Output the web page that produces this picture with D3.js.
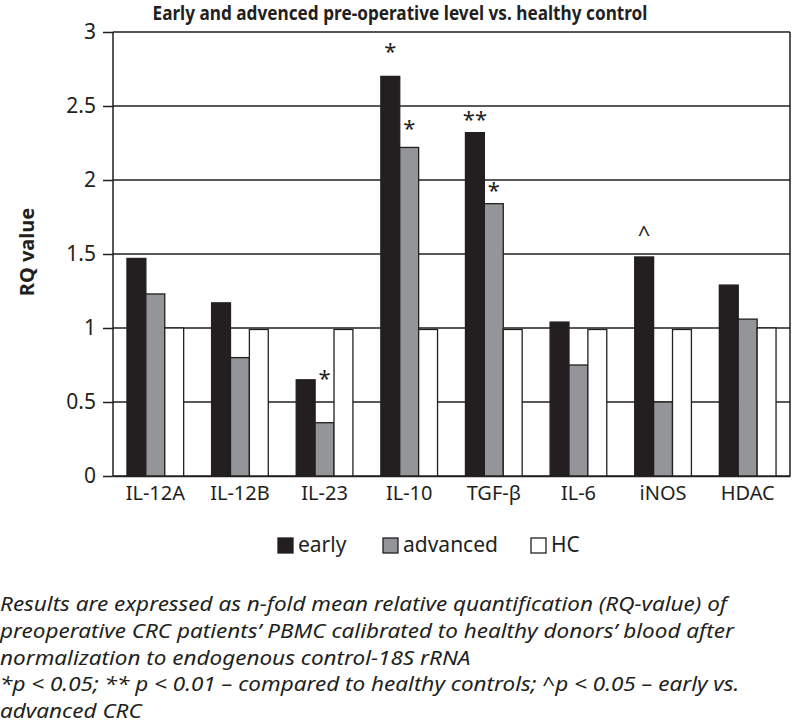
<html>
<head>
<script src="https://d3js.org/d3.v7.min.js"></script>
<style>
  body { margin: 0; background: #fff; }
  text { fill: #231f20; font-family: "Noto Sans", sans-serif; }
  .grid { stroke: #231f20; stroke-width: 1.5; }
  .bar { stroke: #231f20; stroke-width: 1.3; }
</style>
</head>
<body>
<svg width="792" height="725" id="chart"></svg>
<script>
// data
const genes = ["IL-12A", "IL-12B", "IL-23", "IL-10", "TGF-\u03b2", "IL-6", "iNOS", "HDAC"];
const series = ["early", "advanced", "HC"];
const early    = [1.47, 1.17, 0.65, 2.70, 2.32, 1.04, 1.48, 1.29];
const advanced = [1.23, 0.80, 0.36, 2.22, 1.84, 0.75, 0.50, 1.06];
const hc       = [1.00, 0.99, 0.99, 0.99, 0.99, 0.99, 0.99, 1.00];
const yTicks = [0, 0.5, 1, 1.5, 2, 2.5, 3];
// significance marks: gene, series, mark, level (RQ units)
const marks = [
  ["IL-23", "advanced", "*", 0.70],
  ["IL-10", "early", "*", 2.91],
  ["IL-10", "advanced", "*", 2.39],
  ["TGF-\u03b2", "early", "**", 2.45],
  ["TGF-\u03b2", "advanced", "*", 1.97],
  ["iNOS", "early", "^", 1.69]
];
const footnote = [
  "Results are expressed as n-fold mean relative quantification (RQ-value) of",
  "preoperative CRC patients\u2019 PBMC calibrated to healthy donors\u2019 blood after",
  "normalization to endogenous control-18S rRNA",
  "*p < 0.05; ** p < 0.01 \u2013 compared to healthy controls; ^p < 0.05 \u2013 early vs.",
  "advanced CRC"
];

const colors = d3.scaleOrdinal().domain(series).range(["#231f20", "#939598", "#ffffff"]);
const values = {early: early, advanced: advanced, HC: hc};

const svg = d3.select("#chart");
const plotLeft = 113, plotRight = 790, plotTop = 32, plotBottom = 476;

const x = d3.scaleBand().domain(genes).range([plotLeft, plotRight]).paddingInner(0.33).paddingOuter(0.165);
const xs = d3.scaleBand().domain(series).range([0, x.bandwidth()]);
const y = d3.scaleLinear().domain([0, 3]).range([plotBottom, plotTop]);

// title
svg.append("text")
  .attr("x", 400).attr("y", 20)
  .attr("text-anchor", "middle")
  .style("font-size", "19px").style("font-weight", "bold")
  .attr("textLength", 495).attr("lengthAdjust", "spacingAndGlyphs")
  .text("Early and advenced pre-operative level vs. healthy control");

// grid lines
svg.append("g").selectAll("line")
  .data(yTicks)
  .join("line")
  .attr("class", "grid")
  .attr("x1", plotLeft).attr("x2", plotRight)
  .attr("y1", d => y(d)).attr("y2", d => y(d));

// right frame
svg.append("line").attr("class", "grid")
  .attr("x1", plotRight).attr("x2", plotRight)
  .attr("y1", y(3)).attr("y2", y(0));

// bars
const groups = svg.append("g").selectAll("g")
  .data(genes)
  .join("g")
  .attr("transform", d => "translate(" + x(d) + ",0)");

groups.selectAll("rect")
  .data((g, i) => series.map(s => ({s: s, v: values[s][i]})))
  .join("rect")
  .attr("class", "bar")
  .attr("x", d => xs(d.s))
  .attr("width", xs.bandwidth())
  .attr("y", d => y(d.v))
  .attr("height", d => y(0) - y(d.v))
  .attr("fill", d => colors(d.s));

// y axis
const yAxis = svg.append("g")
  .attr("transform", "translate(" + plotLeft + ",0)")
  .call(d3.axisLeft(y).tickValues(yTicks).tickFormat(d3.format("")).tickSize(10).tickPadding(7));
yAxis.selectAll("line, path").attr("stroke", "#231f20").attr("stroke-width", 1.5);
yAxis.select(".domain").attr("d", "M0," + y(3) + "V" + y(0));
yAxis.selectAll("text").style("font-size", "21px").attr("fill", "#231f20").style("font-family", "'Noto Sans', sans-serif");

// x axis
const xAxis = svg.append("g")
  .attr("transform", "translate(0," + plotBottom + ")")
  .call(d3.axisBottom(x).tickSize(0).tickPadding(10));
xAxis.select(".domain").attr("stroke", "#231f20").attr("stroke-width", 1.5);
xAxis.selectAll("text").style("font-size", "20px").attr("fill", "#231f20").style("font-family", "'Noto Sans', sans-serif");

// y label
svg.append("text")
  .attr("transform", "translate(34,252) rotate(-90)")
  .attr("text-anchor", "middle")
  .style("font-size", "20px").style("font-weight", "bold")
  .text("RQ value");

// significance marks
svg.append("g").selectAll("text")
  .data(marks)
  .join("text")
  .attr("x", d => x(d[0]) + xs(d[1]) + xs.bandwidth() / 2)
  .attr("y", d => y(d[3]))
  .attr("dy", d => d[2] === "^" ? "0.75em" : "0.62em")
  .attr("text-anchor", "middle")
  .style("font-size", "22px")
  .text(d => d[2]);

// legend
const legendX = [278, 383, 531];
const legend = svg.append("g").selectAll("g")
  .data(series)
  .join("g")
  .attr("transform", (d, i) => "translate(" + legendX[i] + ",538)");
legend.append("rect")
  .attr("width", 15).attr("height", 15)
  .attr("fill", d => colors(d))
  .attr("stroke", "#231f20").attr("stroke-width", 1.3);
legend.append("text")
  .attr("x", 20).attr("y", 14)
  .style("font-size", "21px")
  .text(d => d);

// footnote, stretched so the first line spans like the original
const notes = svg.append("g").selectAll("text")
  .data(footnote)
  .join("text")
  .attr("x", 0)
  .attr("y", (d, i) => 611 + i * 26.8)
  .style("font-size", "20px").style("font-style", "italic")
  .text(d => d);
const stretch = 727 / notes.node().getComputedTextLength();
notes.each(function() {
  const w = this.getComputedTextLength();
  d3.select(this).attr("textLength", w * stretch).attr("lengthAdjust", "spacingAndGlyphs");
});
</script>
</body>
</html>
